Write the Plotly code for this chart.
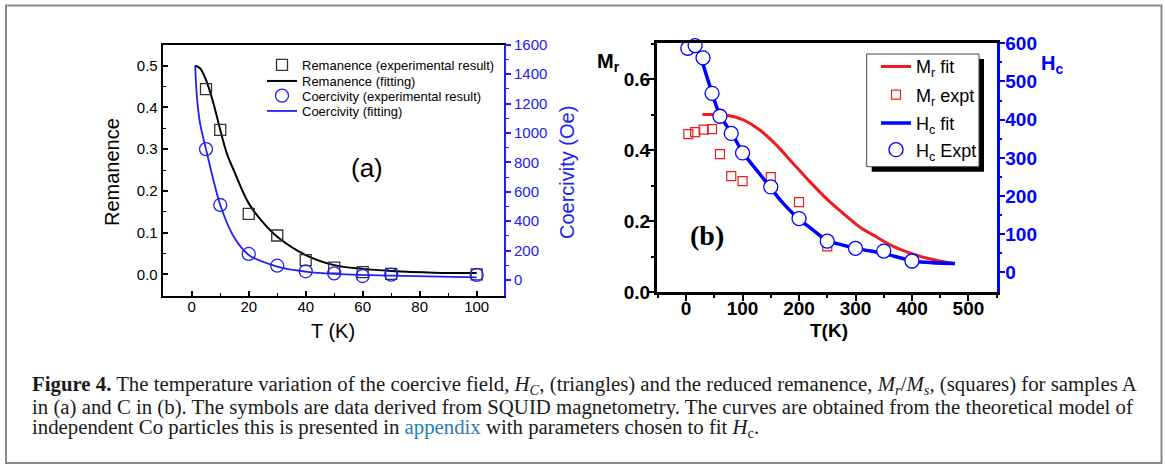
import plotly.graph_objects as go

W, H = 1165, 466

# ---------------- data: panel (a) ----------------
a_T_rem_exp = [5, 10, 20, 30, 40, 50, 60, 70, 100]
a_rem_exp = [0.444, 0.346, 0.145, 0.093, 0.034, 0.016, 0.005, 0.001, 0.0]
a_T_coer_exp = [5, 10, 20, 30, 40, 50, 60, 70, 100]
a_coer_exp = [890, 510, 177, 97, 59, 45, 27, 36, 34]
a_T_rem_fit = [1.2, 2.9, 5, 7.6, 10, 12.3, 14.7, 20, 25.3, 30, 40, 50, 60, 70, 85, 100]
a_rem_fit = [0.5, 0.494, 0.466, 0.41, 0.346, 0.29, 0.25, 0.17, 0.122, 0.09, 0.046,
             0.022, 0.013, 0.008, 0.004, 0.003]
a_T_coer_fit = [1.2, 1.8, 2.9, 5, 7.6, 10, 14.7, 20, 30, 40, 50, 70, 100]
a_coer_fit = [1458, 1247, 1066, 890, 680, 510, 295, 170, 91, 57, 41, 29, 18]

# ---------------- data: panel (b) ----------------
b_T_mr_exp = [4, 16, 31, 46, 60, 80, 100, 150, 200, 250]
b_mr_exp = [0.445, 0.451, 0.458, 0.459, 0.389, 0.327, 0.313, 0.324, 0.254, 0.129]
b_T_hc_exp = [3, 16, 30, 46, 60, 80, 100, 150, 200, 250, 300, 350, 400]
b_hc_exp = [587, 594, 562, 469, 409, 364, 313, 224, 141, 82, 63, 56, 30]
b_T_mr_fit = [29, 50, 72, 100, 131, 160, 190, 220, 249, 279, 308, 338, 367, 397, 427, 476]
b_mr_fit = [0.5, 0.5, 0.498, 0.486, 0.456, 0.414, 0.362, 0.310, 0.263, 0.221, 0.183,
            0.155, 0.129, 0.110, 0.096, 0.080]
b_T_hc_fit = [30, 45, 60, 81, 101.5, 125, 149, 172, 199, 225, 249, 302, 349, 403, 476]
b_hc_fit = [545, 475, 412, 364, 312, 268, 223, 181, 141, 111, 85, 63, 50, 30, 23.5]


def px(x):
    return x / W


def py(y):
    return 1 - y / H


BLUE_A = "#2020f0"
BLUE_B = "#0000ff"
RED_B = "#ee1c1c"
SANS = "Liberation Sans, Arial, sans-serif"
SERIF = "Liberation Serif, Times New Roman, serif"

fig = go.Figure()

# panel (a)
fig.add_trace(go.Scatter(x=a_T_rem_fit, y=a_rem_fit, mode="lines", line=dict(color="black", width=2, shape="spline"),
                         name="Remanence (fitting)", xaxis="x", yaxis="y", legend="legend2"))
fig.add_trace(go.Scatter(x=a_T_coer_fit, y=a_coer_fit, mode="lines", line=dict(color=BLUE_A, width=1.8, shape="spline"),
                         name="Coercivity (fitting)", xaxis="x", yaxis="y2", legend="legend4"))
fig.add_trace(go.Scatter(x=a_T_rem_exp, y=a_rem_exp, mode="markers",
                         marker=dict(symbol="square-open", size=11, color="#333333", line=dict(width=1.3)),
                         name="Remanence (experimental result)", xaxis="x", yaxis="y", legend="legend",
                         cliponaxis=False))
fig.add_trace(go.Scatter(x=a_T_coer_exp, y=a_coer_exp, mode="markers",
                         marker=dict(symbol="circle-open", size=13, color=BLUE_A, line=dict(width=1.3)),
                         name="Coercivity (experimental result)", xaxis="x", yaxis="y2", legend="legend3",
                         cliponaxis=False))

# panel (b)
fig.add_trace(go.Scatter(x=b_T_mr_fit, y=b_mr_fit, mode="lines", line=dict(color=RED_B, width=3, shape="spline"),
                         name="M<sub>r</sub> fit", xaxis="x2", yaxis="y3", legend="legend5"))
fig.add_trace(go.Scatter(x=b_T_hc_fit, y=b_hc_fit, mode="lines", line=dict(color=BLUE_B, width=3.5, shape="spline"),
                         name="H<sub>c</sub> fit", xaxis="x2", yaxis="y4", legend="legend7"))
fig.add_trace(go.Scatter(x=b_T_mr_exp, y=b_mr_exp, mode="markers",
                         marker=dict(symbol="square-open", size=9, color=RED_B, line=dict(width=1.2)),
                         name="M<sub>r</sub> expt", xaxis="x2", yaxis="y3", legend="legend6", cliponaxis=False))
fig.add_trace(go.Scatter(x=b_T_hc_exp, y=b_hc_exp, mode="markers",
                         marker=dict(symbol="circle", size=14, color="white", line=dict(width=1.3, color=BLUE_B)),
                         name="H<sub>c</sub> Expt", xaxis="x2", yaxis="y4", legend="legend8", cliponaxis=False))

# ---------- axes ----------
a_dom_x = [px(162.7), px(504)]
a_dom_y = [py(295.7), py(44.7)]
b_dom_x = [px(656.7), px(996.7)]
b_dom_y = [py(292.3), py(43.3)]

tf_a = dict(family=SANS, size=15, color="black")
tf_b = dict(family=SANS, size=19, color="black", weight="bold")

fig.update_layout(
    xaxis=dict(domain=a_dom_x, anchor="y", range=[-10.2, 109.6], showgrid=False, zeroline=False,
               showline=True, linecolor="black", linewidth=2, mirror=True,
               ticks="inside", ticklen=5, tickwidth=1.5, tickcolor="black", ticklabelstandoff=-4,
               tickvals=[0, 20, 40, 60, 80, 100], tickfont=tf_a,
               minor=dict(tickvals=[10, 30, 50, 70, 90], ticks="inside", ticklen=3, tickwidth=1.2, tickcolor="black")),
    yaxis=dict(domain=a_dom_y, anchor="x", range=[-0.0513, 0.5504], showgrid=False, zeroline=False,
               showline=True, linecolor="black", linewidth=2,
               ticks="inside", ticklen=5, tickwidth=1.5, tickcolor="black",
               tickvals=[0, 0.1, 0.2, 0.3, 0.4, 0.5], tickformat=".1f", tickfont=tf_a,
               minor=dict(tickvals=[0.05, 0.15, 0.25, 0.35, 0.45], ticks="inside", ticklen=3, tickwidth=1.2,
                          tickcolor="black")),
    yaxis2=dict(overlaying="y", side="right", anchor="x", range=[-107, 1600], showgrid=False, zeroline=False,
                showline=True, linecolor=BLUE_A, linewidth=2,
                ticks="outside", ticklen=5, tickwidth=1.5, tickcolor=BLUE_A,
                tickvals=[0, 200, 400, 600, 800, 1000, 1200, 1400, 1600],
                tickfont=dict(family=SANS, size=15, color=BLUE_A),
                minor=dict(tickvals=[100, 300, 500, 700, 900, 1100, 1300, 1500], ticks="outside", ticklen=3,
                           tickwidth=1.2, tickcolor=BLUE_A)),
    xaxis2=dict(domain=b_dom_x, anchor="y3", range=[-52, 550], showgrid=False, zeroline=False,
                showline=True, linecolor="black", linewidth=2.5, mirror=True,
                ticks="outside", ticklen=6, tickwidth=2, tickcolor="black", ticklabelstandoff=-9,
                tickvals=[0, 100, 200, 300, 400, 500], tickfont=tf_b,
                minor=dict(tickvals=[-50, 50, 150, 250, 350, 450, 550], ticks="outside", ticklen=3, tickwidth=2,
                           tickcolor="black")),
    xaxis3=dict(overlaying="x2", side="top", anchor="y3", range=[-52, 550], showgrid=False, zeroline=False,
                showline=False, ticks="inside", ticklen=6, tickwidth=2, tickcolor="black",
                tickvals=[0, 100, 200, 300, 400, 500], showticklabels=False,
                minor=dict(tickvals=[-50, 50, 150, 250, 350, 450], ticks="inside", ticklen=3, tickwidth=2,
                           tickcolor="black")),
    yaxis3=dict(domain=b_dom_y, anchor="x2", range=[0, 0.7007], showgrid=False, zeroline=False,
                showline=True, linecolor="black", linewidth=2.5,
                ticks="outside", ticklen=6, tickwidth=2, tickcolor="black", ticklabelstandoff=-6,
                tickvals=[0, 0.2, 0.4, 0.6], tickformat=".1f", tickfont=tf_b,
                minor=dict(tickvals=[0.1, 0.3, 0.5, 0.7], ticks="outside", ticklen=3, tickwidth=2,
                           tickcolor="black")),
    yaxis4=dict(overlaying="y3", side="right", anchor="x2", range=[-52, 600], showgrid=False, zeroline=False,
                showline=True, linecolor=BLUE_B, linewidth=2.5,
                ticks="outside", ticklen=6, tickwidth=2, tickcolor=BLUE_B, ticklabelstandoff=-4,
                tickvals=[0, 100, 200, 300, 400, 500, 600],
                tickfont=dict(family=SANS, size=19, color=BLUE_B, weight="bold"),
                minor=dict(tickvals=[50, 150, 250, 350, 450, 550], ticks="outside", ticklen=3, tickwidth=2,
                           tickcolor=BLUE_B)),
)

# ---------- legends (one per entry, positioned individually) ----------
leg_a_font = dict(family=SANS, size=13, color="black")
leg_b_font = dict(family=SANS, size=18, color="black")
a_rows = [65, 81, 95.7, 111]
b_rows = [66.7, 95, 123.3, 150]
a_leg_x = 262
b_leg_x = 876
leg_common = dict(xanchor="left", yanchor="middle", bgcolor="rgba(0,0,0,0)", borderwidth=0,
                  xref="container", yref="container")
fig.update_layout(
    legend=dict(x=px(a_leg_x), y=py(a_rows[0]), font=leg_a_font, **leg_common),
    legend2=dict(x=px(a_leg_x), y=py(a_rows[1]), font=leg_a_font, **leg_common),
    legend3=dict(x=px(a_leg_x), y=py(a_rows[2]), font=leg_a_font, **leg_common),
    legend4=dict(x=px(a_leg_x), y=py(a_rows[3]), font=leg_a_font, **leg_common),
    legend5=dict(x=px(b_leg_x), y=py(b_rows[0]), font=leg_b_font, **leg_common),
    legend6=dict(x=px(b_leg_x), y=py(b_rows[1]), font=leg_b_font, **leg_common),
    legend7=dict(x=px(b_leg_x), y=py(b_rows[2]), font=leg_b_font, **leg_common),
    legend8=dict(x=px(b_leg_x), y=py(b_rows[3]), font=leg_b_font, **leg_common),
)

# ---------- shapes ----------
shapes = [
    # outer figure frame
    dict(type="rect", xref="paper", yref="paper", x0=px(6), x1=px(1161.5), y0=py(463), y1=py(5.5),
         line=dict(color="#8a8a8a", width=2), fillcolor="rgba(0,0,0,0)", layer="below"),
    # legend (b) shadow and box
    dict(type="rect", xref="paper", yref="paper", x0=px(871.7), x1=px(984), y0=py(171.7), y1=py(59),
         line=dict(width=0), fillcolor="black", layer="above"),
    dict(type="rect", xref="paper", yref="paper", x0=px(866.7), x1=px(979), y0=py(166.7), y1=py(54),
         line=dict(color="#444444", width=1), fillcolor="white", layer="above"),
]
fig.update_layout(shapes=shapes)

# ---------- annotations ----------
ann = []


def add_text(x, y, text, font, angle=0, xanchor="center", yanchor="middle"):
    ann.append(dict(x=px(x), y=py(y), xref="paper", yref="paper", text=text, showarrow=False,
                    font=font, textangle=angle, xanchor=xanchor, yanchor=yanchor))


add_text(112, 172, "Remanence", dict(family=SANS, size=20, color="black"), angle=-90)
add_text(567, 173, "Coercivity (Oe)", dict(family=SANS, size=20, color=BLUE_A), angle=-90)
add_text(333, 331, "T (K)", dict(family=SANS, size=20, color="black"))
add_text(367, 168, "(a)", dict(family=SANS, size=26, color="black"))

add_text(829, 330, "T(K)", dict(family=SANS, size=19, color="black", weight="bold"))
add_text(608, 62, "M<sub>r</sub>", dict(family=SANS, size=20, color="black", weight="bold"))
add_text(1052, 64, "H<sub>c</sub>", dict(family=SANS, size=20, color=BLUE_B, weight="bold"))
add_text(707, 235, "(b)", dict(family=SERIF, size=28, color="black", weight="bold"))

cap_font = dict(family=SERIF, size=20.8, color="#1a1a1a")
cap1 = ("<b>Figure 4.</b> The temperature variation of the coercive field, <i>H<sub>C</sub></i>, (triangles) "
        "and the reduced remanence, <i>M<sub>r</sub></i>/<i>M<sub>s</sub></i>, (squares) for samples A")
cap2 = ("in (a) and C in (b). The symbols are data derived from SQUID magnetometry. "
        "The curves are obtained from the theoretical model of")
cap3 = ("independent Co particles this is presented in <span style='color:#2b7bb9'>appendix</span> "
        "with parameters chosen to fit <i>H</i><sub>c</sub>.")
add_text(30, 385, cap1, cap_font, xanchor="left")
add_text(30, 407, cap2, cap_font, xanchor="left")
add_text(30, 428, cap3, cap_font, xanchor="left")

fig.update_layout(annotations=ann)

fig.update_layout(width=W, height=H, autosize=False,
                  margin=dict(l=0, r=0, t=0, b=0, pad=0, autoexpand=False),
                  paper_bgcolor="white", plot_bgcolor="white", showlegend=True)

fig.write_html("out.html", config={"displayModeBar": False},
               post_script="document.body.style.margin='0px';")
